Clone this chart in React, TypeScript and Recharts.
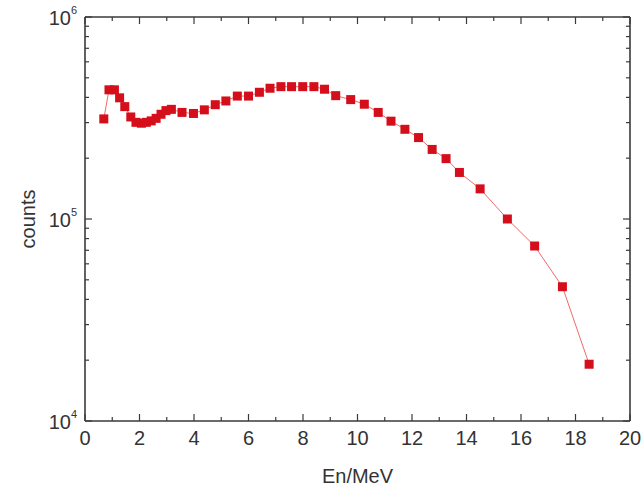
import { LineChart, Line, XAxis, YAxis } from 'recharts';

// neutron energy (MeV) and counts per bin
const energy = [
  0.69, 0.88, 1.08, 1.27, 1.46, 1.68, 1.87, 2.07, 2.25, 2.43,
  2.61, 2.79, 2.97, 3.17, 3.56, 3.98, 4.38, 4.78, 5.17, 5.59,
  6.0, 6.4, 6.79, 7.19, 7.58, 7.99, 8.4, 8.79, 9.2, 9.75,
  10.25, 10.76, 11.23, 11.74, 12.24, 12.74, 13.25, 13.74, 14.5, 15.5,
  16.5, 17.52, 18.5,
];
const counts = [
  3.13e5, 4.36e5, 4.36e5, 3.98e5, 3.6e5, 3.2e5, 3.01e5, 2.98e5, 3.01e5, 3.06e5,
  3.15e5, 3.3e5, 3.44e5, 3.49e5, 3.37e5, 3.33e5, 3.47e5, 3.68e5, 3.84e5, 4.06e5,
  4.06e5, 4.24e5, 4.44e5, 4.52e5, 4.52e5, 4.52e5, 4.52e5, 4.39e5, 4.08e5, 3.9e5,
  3.7e5, 3.37e5, 3.05e5, 2.78e5, 2.53e5, 2.21e5, 1.99e5, 1.7e5, 1.41e5, 1.0e5,
  7.35e4, 4.62e4, 1.91e4,
];

const xTicks = [0, 1, 2, 3, 4, 5, 6, 7, 8, 9, 10, 11, 12, 13, 14, 15, 16, 17, 18, 19, 20];
const yTicks = [
  1e4, 2e4, 3e4, 4e4, 5e4, 6e4, 7e4, 8e4, 9e4,
  1e5, 2e5, 3e5, 4e5, 5e5, 6e5, 7e5, 8e5, 9e5,
  1e6,
];

const data = energy.map((e, i) => ({ energy: e, counts: counts[i] }));

const FONT = '"Liberation Sans", Arial, sans-serif';
const INK = '#333';
const AXIS = { stroke: '#3a3a3a', strokeWidth: 1.6 };

const isDecade = (v: number) => Math.abs(Math.log10(v) - Math.round(Math.log10(v))) < 1e-9;

const BottomTick = ({ x, y, payload }: any) => {
  const major = payload.value % 2 === 0;
  return (
    <g>
      <line x1={x} x2={x} y1={y} y2={y - (major ? 7 : 4)} stroke="#3a3a3a" strokeWidth={1.2} />
      {major && (
        <text x={x} y={y + 24} textAnchor="middle" fontSize={20} fill={INK} fontFamily={FONT}>
          {payload.value}
        </text>
      )}
    </g>
  );
};

const TopTick = ({ x, y, payload }: any) => {
  const major = payload.value % 2 === 0;
  return <line x1={x} x2={x} y1={y} y2={y + (major ? 7 : 4)} stroke="#3a3a3a" strokeWidth={1.2} />;
};

const LeftTick = ({ x, y, payload }: any) => {
  const major = isDecade(payload.value);
  return (
    <g>
      <line x1={x} x2={x + (major ? 7 : 4)} y1={y} y2={y} stroke="#3a3a3a" strokeWidth={1.2} />
      {major && (
        <text x={x - 8} y={y + 8} textAnchor="end" fontSize={20} fill={INK} fontFamily={FONT}>
          <tspan>10</tspan>
          <tspan dy={-11} fontSize={11}>{Math.round(Math.log10(payload.value))}</tspan>
        </text>
      )}
    </g>
  );
};

const RightTick = ({ x, y, payload }: any) => {
  const major = isDecade(payload.value);
  return <line x1={x} x2={x - (major ? 7 : 4)} y1={y} y2={y} stroke="#3a3a3a" strokeWidth={1.2} />;
};

const SquareDot = (props: any) => {
  const { cx, cy, index } = props;
  return <rect key={index} x={cx - 4.5} y={cy - 4.5} width={9} height={9} fill="#d40f1b" />;
};

export default function App() {
  return (
    <div style={{ position: 'absolute', left: 0, top: 0, background: '#fff' }}>
      <LineChart width={644} height={495} data={data} margin={{ top: 16, right: 13, bottom: 0, left: 0 }}>
        <XAxis
          xAxisId="main"
          dataKey="energy"
          type="number"
          domain={[0, 20]}
          ticks={xTicks}
          interval={0}
          allowDataOverflow
          height={74}
          tickSize={0}
          tickMargin={0}
          tickLine={false}
          axisLine={AXIS}
          tick={<BottomTick />}
          label={{ value: 'En/MeV', position: 'insideBottom', offset: 12, fontSize: 20, fill: INK, fontFamily: FONT }}
        />
        <XAxis
          xAxisId="top"
          orientation="top"
          dataKey="energy"
          type="number"
          domain={[0, 20]}
          ticks={xTicks}
          interval={0}
          allowDataOverflow
          height={1}
          tickSize={0}
          tickMargin={0}
          tickLine={false}
          axisLine={AXIS}
          tick={<TopTick />}
        />
        <YAxis
          yAxisId="main"
          type="number"
          scale="log"
          domain={[1e4, 1e6]}
          ticks={yTicks}
          interval={0}
          allowDataOverflow
          width={85}
          tickSize={0}
          tickMargin={0}
          tickLine={false}
          axisLine={AXIS}
          tick={<LeftTick />}
          label={{
            value: 'counts',
            angle: -90,
            position: 'insideLeft',
            offset: 28,
            fontSize: 20,
            fill: INK,
            fontFamily: FONT,
            style: { textAnchor: 'middle' },
          }}
        />
        <YAxis
          yAxisId="right"
          orientation="right"
          type="number"
          scale="log"
          domain={[1e4, 1e6]}
          ticks={yTicks}
          interval={0}
          allowDataOverflow
          width={1}
          tickSize={0}
          tickMargin={0}
          tickLine={false}
          axisLine={AXIS}
          tick={<RightTick />}
        />
        <Line
          xAxisId="main"
          yAxisId="main"
          dataKey="counts"
          type="linear"
          stroke="#ee6a6a"
          strokeWidth={1}
          dot={SquareDot}
          activeDot={false}
          isAnimationActive={false}
        />
      </LineChart>
    </div>
  );
}
